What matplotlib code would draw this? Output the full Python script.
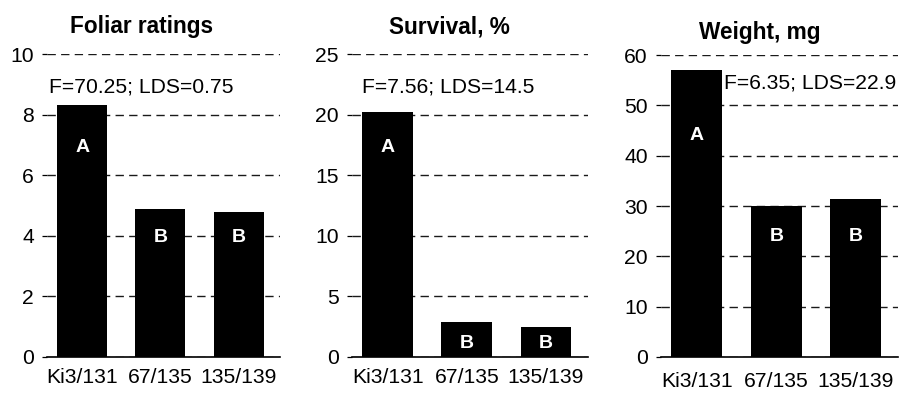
import matplotlib
matplotlib.use("Agg")
import matplotlib.pyplot as plt

plt.rcParams["font.family"] = ["Liberation Sans", "DejaVu Sans"]

# Data
genotypes = ["Ki3/131", "67/135", "135/139"]
foliar = [8.32, 4.87, 4.80]
survival = [20.2, 2.9, 2.5]
weight = [57.0, 30.0, 31.3]
groups = ["A", "B", "B"]
titles = ["Foliar ratings", "Survival, %", "Weight, mg"]
stats = ["F=70.25; LDS=0.75", "F=7.56; LDS=14.5", "F=6.35; LDS=22.9"]
y_max = [10, 25, 60]
y_step = [2, 5, 10]

# Layout (pixels on a 899x395 canvas)
W, H = 899, 395
panels = [
    dict(left=47, right=280, top=54, bottom=357,
         title_xy=(141, 27), stat_xy=(141, 87), stat_ha="center",
         letter_y=[6.93, 3.96, 3.96], tick_pad=8),
    dict(left=352, right=588, top=54, bottom=357,
         title_xy=(449, 27), stat_xy=(448, 87), stat_ha="center",
         letter_y=[17.3, 1.15, 1.15], tick_pad=8),
    dict(left=661, right=898, top=55, bottom=357,
         title_xy=(760, 32), stat_xy=(724, 83), stat_ha="left",
         letter_y=[44.1, 24.0, 24.0], tick_pad=11),
]
series = [foliar, survival, weight]

fig = plt.figure(figsize=(W / 100, H / 100), dpi=100)

for i, p in enumerate(panels):
    ax = fig.add_axes([p["left"] / W, 1 - p["bottom"] / H,
                       (p["right"] - p["left"]) / W,
                       (p["bottom"] - p["top"]) / H])
    x = list(range(len(genotypes)))
    ax.bar(x, series[i], width=0.64, color="black", zorder=3)
    ax.set_xlim(-0.45, 2.53)
    ax.set_ylim(0, y_max[i])
    ax.set_yticks(list(range(0, y_max[i] + 1, y_step[i])))
    ax.set_xticks(x)
    ax.set_xticklabels(genotypes)
    ax.tick_params(axis="x", length=0, pad=p["tick_pad"], labelsize=15.2)
    ax.tick_params(axis="y", length=3.5, width=0.9, pad=6, labelsize=15.2)
    for s in ["left", "right", "top"]:
        ax.spines[s].set_visible(False)
    ax.spines["bottom"].set_linewidth(1.2)
    ax.spines["bottom"].set_zorder(4)
    ax.yaxis.grid(True, linestyle=(0, (6, 3.8)), color="#1a1a1a",
                  linewidth=1.0, zorder=1)
    ax.set_axisbelow(True)
    for xi, ly, g in zip(x, p["letter_y"], groups):
        ax.text(xi, ly, g, color="white", fontsize=14, fontweight="bold",
                ha="center", va="center", zorder=5)
    tx, ty = p["title_xy"]
    fig.text(tx / W, 1 - ty / H, titles[i], fontsize=16.3, fontweight="bold",
             ha="center", va="center")
    sx, sy = p["stat_xy"]
    fig.text(sx / W, 1 - sy / H, stats[i], fontsize=15.2,
             ha=p["stat_ha"], va="center")

fig.savefig("out.png", dpi=100)
